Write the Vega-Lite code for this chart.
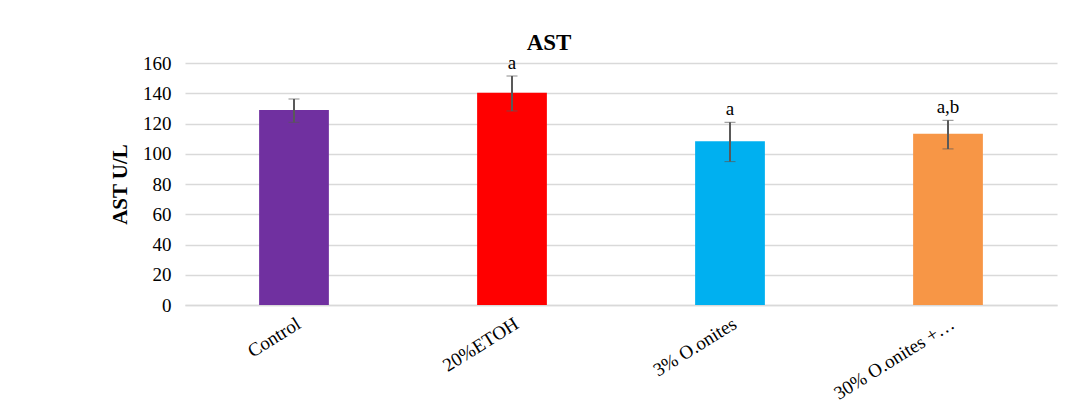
{
  "$schema": "https://vega.github.io/schema/vega-lite/v6.json",
  "autosize": "none",
  "width": 872,
  "height": 242,
  "padding": {"left": 185, "top": 63, "right": 24, "bottom": 103},
  "background": "white",
  "config": {
    "font": "Liberation Serif",
    "view": {"stroke": null},
    "axis": {"labelFont": "Liberation Serif", "titleFont": "Liberation Serif", "labelColor": "#000000", "titleColor": "#000000"},
    "axisY": {"titleFontSize": 21, "titleFontWeight": "bold", "titlePadding": 12, "labelFontSize": 19, "labelPadding": 14, "values": [0,20,40,60,80,100,120,140,160], "labelOverlap": false, "ticks": false, "domain": false, "gridColor": "#d9d9d9", "gridWidth": 1.5}
  },
  "title": {"text": "AST", "font": "Liberation Serif", "fontSize": 23, "fontWeight": "bold", "color": "#000000", "anchor": "middle", "frame": "group", "baseline": "bottom", "offset": 7, "dy": 31, "dx": -72},
  "data": {
    "values": [
      {"group": "Control", "mean": 129, "lo": 120.8, "hi": 136.2, "sig": "", "color": "#7030A0"},
      {"group": "20%ETOH", "mean": 140.4, "lo": 128.3, "hi": 151.4, "sig": "a", "color": "#FF0000"},
      {"group": "3% O.onites", "mean": 108.2, "lo": 94.8, "hi": 120.8, "sig": "a", "color": "#00B0F0"},
      {"group": "30% O.onites +…", "mean": 113.3, "lo": 103.2, "hi": 122.1, "sig": "a,b", "color": "#F79646"}
    ]
  },
  "encoding": {
    "x": {
      "field": "group", "type": "nominal", "sort": null,
      "scale": {"paddingInner": 0.68, "paddingOuter": 0.34},
      "axis": {"title": null, "labelAngle": -32, "labelFont": "Liberation Serif", "labelFontSize": 19, "labelPadding": 9, "ticks": false, "domainColor": "#d9d9d9", "domainWidth": 1.5, "labelAlign": "right", "labelBaseline": "top"}
    }
  },
  "layer": [
    {
      "mark": {"type": "bar"},
      "encoding": {
        "y": {"field": "mean", "type": "quantitative", "title": "AST U/L", "scale": {"domain": [0, 160]}},
        "color": {"field": "color", "type": "nominal", "scale": null}
      }
    },
    {
      "mark": {"type": "errorbar", "ticks": {"size": 11, "color": "#595959", "strokeWidth": 2}, "rule": {"color": "#595959", "strokeWidth": 2}},
      "encoding": {
        "y": {"field": "lo", "type": "quantitative", "title": "AST U/L"},
        "y2": {"field": "hi"}
      }
    },
    {
      "mark": {"type": "text", "baseline": "alphabetic", "dy": -7, "fontSize": 19, "font": "Liberation Serif", "color": "#000000"},
      "encoding": {
        "y": {"field": "hi", "type": "quantitative", "title": "AST U/L"},
        "text": {"field": "sig"}
      }
    }
  ]
}
